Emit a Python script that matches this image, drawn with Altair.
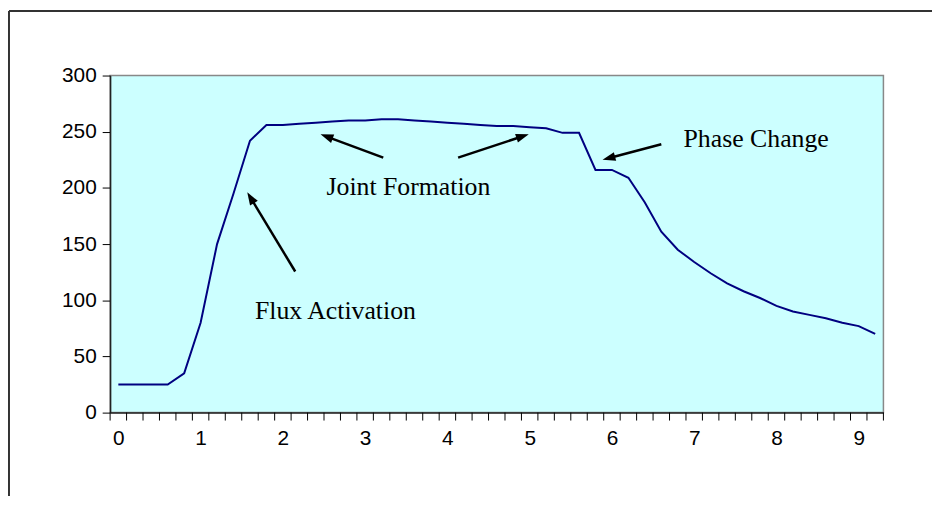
import math
import altair as alt
import pandas as pd

# ---- data ----
times = [0.0, 0.2, 0.4, 0.6, 0.8, 1.0, 1.2, 1.4, 1.6, 1.8,
         2.0, 2.2, 2.4, 2.6, 2.8, 3.0, 3.2, 3.4, 3.6, 3.8,
         4.0, 4.2, 4.4, 4.6, 4.8, 5.0, 5.2, 5.4, 5.6, 5.8,
         6.0, 6.2, 6.4, 6.6, 6.8, 7.0, 7.2, 7.4, 7.6, 7.8,
         8.0, 8.2, 8.4, 8.6, 8.8, 9.0, 9.2]
temps = [25, 25, 25, 25, 35, 80, 150, 195, 242, 256,
         256, 257, 258, 259, 260, 260, 261, 261, 260, 259,
         258, 257, 256, 255, 255, 254, 253, 249, 249, 216,
         216, 209, 187, 161, 145, 134, 124, 115, 108, 102,
         95, 90, 87, 84, 80, 77, 70]
x_labels = [0, 1, 2, 3, 4, 5, 6, 7, 8, 9]
y_ticks = [0, 50, 100, 150, 200, 250, 300]

ann_text = ["Flux Activation", "Joint Formation", "Phase Change"]
ann_x = [1.66, 2.53, 6.87]
ann_y = [83, 194, 236.5]

arrow_tail_x = [2.15, 3.22, 4.13, 6.60]
arrow_tail_y = [125.6, 227.0, 227.0, 238.9]
arrow_tip_x = [1.567, 2.458, 4.989, 5.886]
arrow_tip_y = [196.2, 247.7, 247.7, 225.0]

# ---- layout ----
W, H = 780, 340
X_DOM = [-0.1, 9.3]
Y_DOM = [0, 300]
PX_X = W / (X_DOM[1] - X_DOM[0])
PX_Y = H / (Y_DOM[1] - Y_DOM[0])

series = pd.DataFrame({"t": times, "v": temps})
step = times[1] - times[0]
bounds = [round(t - step / 2, 2) for t in times] + [round(times[-1] + step / 2, 2)]
ticks_df = pd.DataFrame({"b": bounds})
ann_df = pd.DataFrame({"text": ann_text, "x": ann_x, "y": ann_y})

rows = []
for tx, ty, hx, hy in zip(arrow_tail_x, arrow_tail_y, arrow_tip_x, arrow_tip_y):
    dx = (hx - tx) * PX_X
    dy = -(hy - ty) * PX_Y
    L = math.hypot(dx, dy)
    ang = math.degrees(math.atan2(dx, -dy)) % 360
    k = (L - 8) / L
    rows.append({"tx": tx, "ty": ty, "hx": hx, "hy": hy,
                 "sx": tx + (hx - tx) * k, "sy": ty + (hy - ty) * k,
                 "ang": ang})
arr_df = pd.DataFrame(rows)

xscale = alt.Scale(domain=X_DOM, nice=False, zero=False)
yscale = alt.Scale(domain=Y_DOM, nice=False, zero=False)

line = alt.Chart(series).mark_line(color="#000080", strokeWidth=2).encode(
    x=alt.X("t:Q", scale=xscale, title=None,
            axis=alt.Axis(values=x_labels, format="d", ticks=False, grid=False, labelFontSize=21,
                          labelFont="Liberation Sans", labelColor="black",
                          labelPadding=15, domainColor="#222222", domainWidth=1.5)),
    y=alt.Y("v:Q", scale=yscale, title=None,
            axis=alt.Axis(values=y_ticks, format="d", grid=False, tickSize=8, tickColor="black",
                          labelFontSize=21, labelFont="Liberation Sans", labelColor="black",
                          labelPadding=6, domainColor="#222222", domainWidth=1.5)),
)

xticks = alt.Chart(ticks_df).mark_rule(color="black", strokeWidth=1).encode(
    x=alt.X("b:Q", scale=xscale),
    y=alt.value(H), y2=alt.value(H + 8),
)

shafts = alt.Chart(arr_df).mark_rule(color="black", strokeWidth=2.5).encode(
    x=alt.X("tx:Q", scale=xscale), y=alt.Y("ty:Q", scale=yscale),
    x2="sx:Q", y2="sy:Q",
)

heads = alt.Chart(arr_df).mark_point(
    shape="M0,0L0.7,2L-0.7,2Z", filled=True, size=169, color="black", opacity=1
).encode(
    x=alt.X("hx:Q", scale=xscale), y=alt.Y("hy:Q", scale=yscale),
    angle=alt.Angle("ang:Q", scale=None),
)

texts = alt.Chart(ann_df).mark_text(
    font="Liberation Serif", fontSize=26, color="black", align="left", baseline="alphabetic"
).encode(
    x=alt.X("x:Q", scale=xscale), y=alt.Y("y:Q", scale=yscale), text="text:N",
)

frame_df = pd.DataFrame({"k": [0]})
top_border = alt.Chart(frame_df).mark_rule(color="#333333", strokeWidth=2).encode(
    x=alt.value(-102), x2=alt.value(829), y=alt.value(-65),
)
left_border = alt.Chart(frame_df).mark_rule(color="#333333", strokeWidth=2).encode(
    x=alt.value(-102), y=alt.value(-65), y2=alt.value(424),
)

chart = alt.layer(line, xticks, shafts, heads, texts, top_border, left_border).properties(
    width=W, height=H,
    autosize=alt.AutoSizeParams(type="none"),
    padding={"left": 103, "top": 66, "right": 49, "bottom": 84},
    background="white",
).configure_view(
    fill="#CCFFFF", stroke="#888888", strokeWidth=1.5,
)

chart.save("out.html", embed_options={"renderer": "svg", "actions": False})
